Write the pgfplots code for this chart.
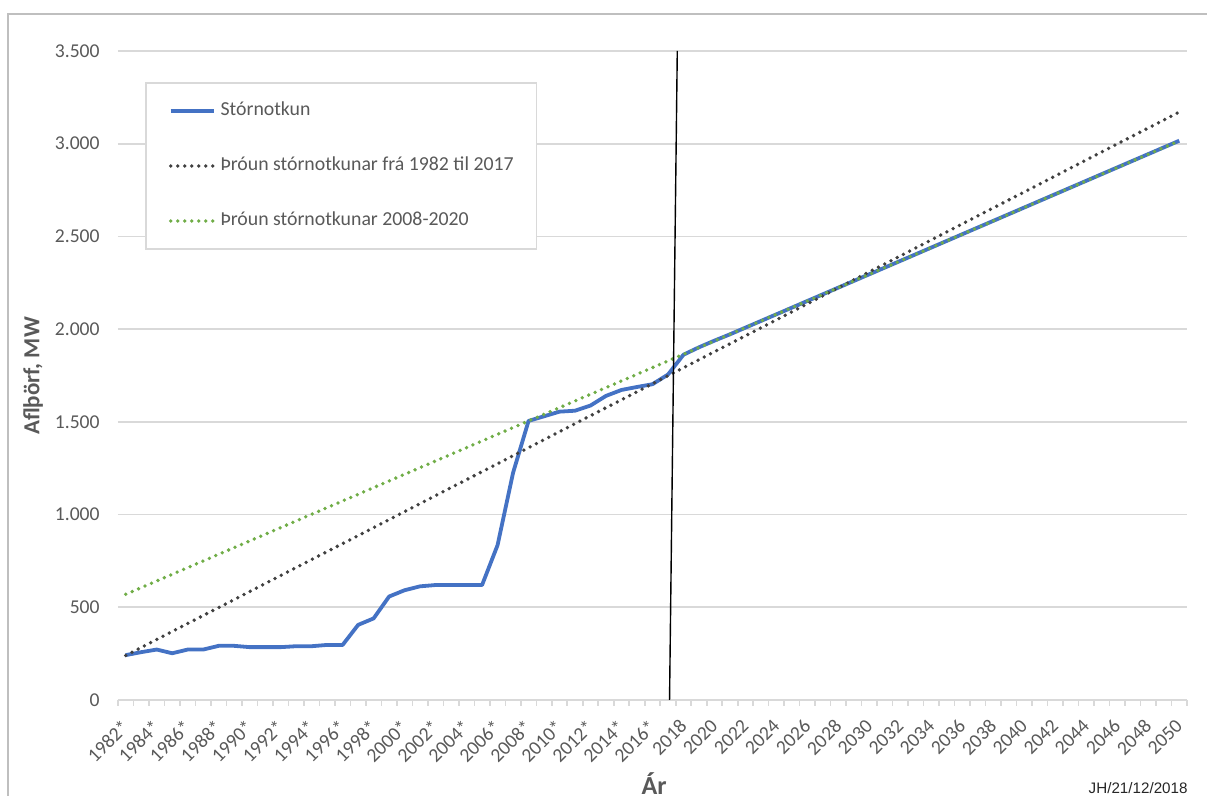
\documentclass[border=0pt]{standalone}
\usepackage{pgfplots}
\pgfplotsset{compat=1.18}
\usepackage{fontspec}
\setmainfont{Carlito}
\newfontfamily\arialfont{Liberation Sans}
\definecolor{cblue}{HTML}{4472C4}
\definecolor{cgreen}{HTML}{70AD47}
\definecolor{cdark}{HTML}{404040}
\definecolor{cgrid}{HTML}{D9D9D9}
\definecolor{ctext}{HTML}{595959}
\definecolor{cborder}{HTML}{BFBFBF}
\begin{document}
\begin{tikzpicture}
\useasboundingbox (0pt,0pt) rectangle (603.5pt,398pt);
\begin{scope}[x=0.5pt,y=-0.5pt,shift={(0pt,398pt)}]
\draw[cborder, line width=0.8pt] (8,800) -- (8,14) -- (1210,14);
\node[rotate=90, font=\fontsize{11.5}{13}\selectfont\bfseries, text=ctext] at (33,376) {Aflþörf, MW};
\node[anchor=base, font=\fontsize{13}{15}\selectfont\bfseries, text=ctext] at (654,795) {Ár};
\node[anchor=base east, inner sep=0pt, font=\arialfont\fontsize{7.6}{9}\selectfont, text=black!85] at (1188,794) {JH/21/12/2018};
\end{scope}
\begin{axis}[
  at={(59pt,48pt)}, anchor=south west,
  scale only axis, width=534.5pt, height=324.5pt,
  xmin=1981.5, xmax=2050.5, ymin=0, ymax=3500,
  axis line style={draw=none},
  ytick={0,500,...,3500},
  ymajorgrids, grid style={cgrid, line width=0.8pt},
  major tick length=0pt,
  xtick={1982,1984,...,2050},
  xticklabels={1982*,1984*,1986*,1988*,1990*,1992*,1994*,1996*,1998*,2000*,2002*,2004*,2006*,2008*,2010*,2012*,2014*,2016*,2018,2020,2022,2024,2026,2028,2030,2032,2034,2036,2038,2040,2042,2044,2046,2048,2050},
  minor xtick={1981.5,1982.5,...,2050.5},
  minor tick length=3pt,
  xtick align=outside,
  xtick pos=bottom, ytick pos=left,
  minor tick style={cgrid, line width=0.8pt},
  tick label style={font=\fontsize{9.8}{11}\selectfont, text=ctext},
  xticklabel shift=11.5pt,
  xticklabel style={rotate=45, anchor=east, inner sep=0pt},
  yticklabel style={anchor=east, inner sep=0pt, xshift=-9pt},
  /pgf/number format/.cd, 1000 sep={.}, assume math mode=true, /pgfplots/.cd,
  legend style={at={(0.0253,0.952)}, anchor=north west, draw=cgrid, fill=white,
    line width=0.8pt,
    font=\fontsize{9.9}{11}\selectfont, text=ctext,
    inner xsep=11.5pt, inner ysep=9.5pt, row sep=18.5pt, column sep=2.5pt,
    nodes={inner sep=0pt, text height=7pt, text depth=2pt}},
  legend cell align=left,
  legend image code/.code={\draw[#1] (0pt,0pt) -- (21.5pt,0pt);},
]
\addplot[cblue, line width=1.9pt, line join=round] coordinates {
(1982,242)(1983,258)(1984,272)(1985,252)(1986,272)(1987,272)(1988,292)(1989,292)
(1990,285)(1991,285)(1992,285)(1993,290)(1994,290)(1995,297)(1996,297)(1997,405)
(1998,440)(1999,558)(2000,592)(2001,613)(2002,620)(2003,620)(2004,620)(2005,620)
(2006,835)(2007,1225)(2008,1505)(2009,1530)(2010,1555)(2011,1560)(2012,1588)(2013,1640)
(2014,1672)(2015,1688)(2016,1703)(2017,1755)(2018,1862)(2019,1902)(2020,1938)(2021,1972)
(2022,2008)(2023,2044)(2024,2080)(2025,2116)(2026,2152)(2027,2188)(2028,2224)(2029,2260)
(2030,2296)(2031,2332)(2032,2368)(2033,2404)(2034,2440)(2035,2476)(2036,2512)(2037,2548)
(2038,2584)(2039,2620)(2040,2656)(2041,2692)(2042,2728)(2043,2764)(2044,2800)(2045,2836)
(2046,2872)(2047,2908)(2048,2944)(2049,2980)(2050,3016)};
\addlegendentry{Stórnotkun}
\addplot[cdark, line width=1.9pt, line cap=round, dash pattern=on 0pt off 3.5pt] coordinates {(1982,240)(2050,3171)};
\addlegendentry{Þróun stórnotkunar frá 1982 til 2017}
\addplot[cgreen, line width=1.9pt, line cap=round, dash pattern=on 0pt off 3.5pt] coordinates {(1982,570)(2050,3015)};
\addlegendentry{Þróun stórnotkunar 2008-2020}
\addplot[black, line width=0.7pt, forget plot] coordinates {(2017.1,0)(2017.6,3500)};
\end{axis}
\end{tikzpicture}
\end{document}
